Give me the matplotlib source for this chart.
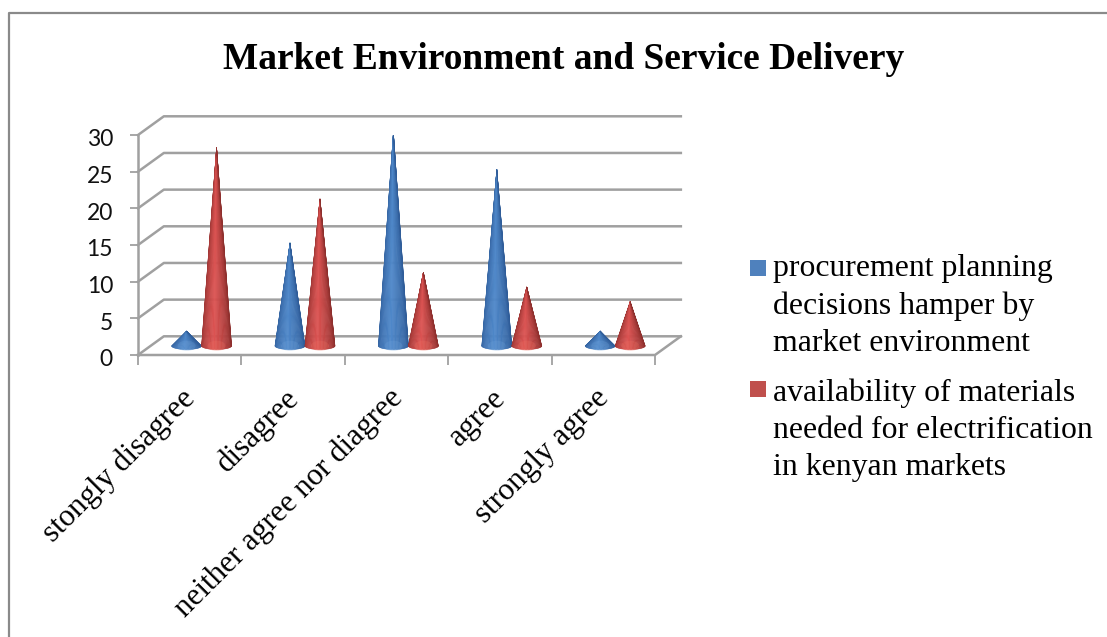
import numpy as np
import matplotlib
matplotlib.use("Agg")
import matplotlib.pyplot as plt
from matplotlib.collections import PolyCollection
from matplotlib.colors import to_rgb
from matplotlib.lines import Line2D
from matplotlib.patches import Ellipse, Rectangle
from matplotlib.transforms import ScaledTranslation

W = 1107
H = 637

title = "Market Environment and Service Delivery"
categories = ["stongly disagree", "disagree", "neither agree nor diagree", "agree", "strongly agree"]
procurement = [2, 14, 29, 24, 2]
availability = [27, 20, 10, 8, 6]
yticks = [0, 5, 10, 15, 20, 25, 30]
legend_labels = ["procurement planning\ndecisions hamper by\nmarket environment",
	"availability of materials\nneeded for electrification\nin kenyan markets"]

GRID = "#a0a0a0"
SERIF = "Liberation Serif"


def px(x, y):
	return x / W, 1 - y / H


def drawCone(ax, x, value, dark, mid, light):
	# fan of thin wedges from the tip round the front of the base ellipse
	base = 1.25
	half_w = 0.145
	half_h = 0.5
	t = np.linspace(np.pi, 2 * np.pi, 33)
	bx = x + half_w * np.cos(t)
	by = base + half_h * np.sin(t)
	polys = []
	colors = []
	for i in range(len(t) - 1):
		polys.append([(x, base + value), (bx[i], by[i]), (bx[i + 1], by[i + 1])])
		s = (i + 0.5) / (len(t) - 1)
		k = (1 - abs(s - 0.45) / 0.55) ** 1.1
		c = np.array(to_rgb(dark)) * (1 - k) + np.array(to_rgb(mid)) * k
		colors.append(c)
	ax.add_collection(PolyCollection(polys, facecolors=colors, edgecolors=colors, linewidths=0.4, zorder=5))
	# lit patch at the bottom of the cone
	ax.add_patch(Ellipse((x, base), half_w * 1.2, 1.4, color=light, alpha=0.25, lw=0, zorder=6))


def main():
	fig = plt.figure(figsize=(W / 100, H / 100), dpi=100, facecolor="white")

	# chart frame runs off the picture on the right and at the bottom
	x0, y0 = px(9, H)
	x1, y1 = px(W, 13)
	fig.add_artist(Line2D([x0, x0, x1], [y0, y1, y1], transform=fig.transFigure, color="#8a8a8a", lw=1.6))

	left, bottom = px(138, 355)
	right, top = px(655, 135)
	ax = fig.add_axes([left, bottom, right - left, top - bottom])
	ax.set_xlim(0, 5)
	ax.set_ylim(0, 30)
	ax.patch.set_visible(False)
	for s in ax.spines.values():
		s.set_visible(False)

	# depth of the floor, in data units
	dx = 0.25
	dy = 2.55

	for v in yticks:
		ax.plot([0, dx, 5 + dx], [v, v + dy, v + dy], color=GRID, lw=1.8, clip_on=False, zorder=1)
	ax.plot([0, 0], [0, 30], color=GRID, lw=1.8, clip_on=False, zorder=2)
	ax.plot([0, 5, 5 + dx], [0, 0, dy], color=GRID, lw=1.8, clip_on=False, zorder=2)

	ax.set_xticks(range(6))
	ax.set_xticklabels([])
	ax.set_yticks(yticks)
	ax.tick_params(axis="x", length=7, width=1.3, color=GRID, direction="out")
	ax.tick_params(axis="y", length=6, width=1.3, color=GRID, direction="out", pad=12)
	shift = ScaledTranslation(0, -3 / 100, fig.dpi_scale_trans)
	for lab in ax.get_yticklabels():
		lab.set_family("Lato")
		lab.set_fontsize(16.5)
		lab.set_color("#111111")
		lab.set_transform(lab.get_transform() + shift)

	for i in range(5):
		drawCone(ax, i + 0.47, procurement[i], "#2f5c98", "#4f88ca", "#6fa3dc")
		drawCone(ax, i + 0.76, availability[i], "#8c2f2d", "#dc5352", "#f0705f")
		ax.annotate(categories[i], xy=(i + 0.515, 0), xytext=(0, -28), textcoords="offset points",
			rotation=45, rotation_mode="anchor", ha="right", va="center", family=SERIF,
			fontsize=22.3, color="black", annotation_clip=False)

	x, y = px(564, 69)
	fig.text(x, y, title, family=SERIF, fontweight="bold", fontsize=26.9, ha="center", va="baseline", color="black")

	# legend
	for label, color, box_y, text_y in zip(legend_labels, ["#4f81bd", "#c0504d"], [260, 381], [275, 399]):
		x, y = px(750, box_y + 16)
		fig.add_artist(Rectangle((x, y), 16 / W, 16 / H, transform=fig.transFigure, fc=color, ec="none"))
		x, y = px(773, text_y - 21)
		fig.text(x, y, label, family=SERIF, fontsize=22.9, ha="left", va="top", linespacing=1.38, color="black")

	plt.savefig("out.png", dpi=100)


if __name__ == '__main__':
	main()
